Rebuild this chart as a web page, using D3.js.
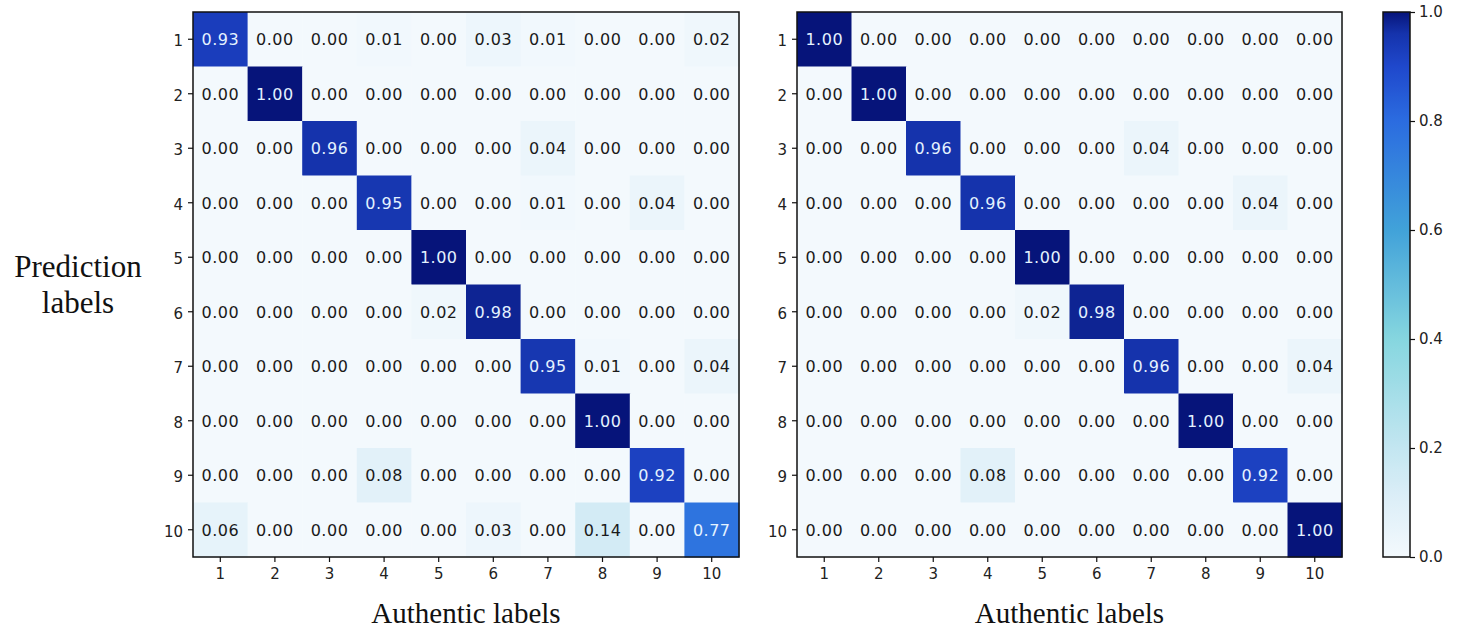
<!DOCTYPE html>
<html>
<head>
<meta charset="utf-8">
<script src="https://cdn.jsdelivr.net/npm/d3@7"></script>
<style>
  body { margin: 0; background: #fff; }
  .tick text { font-family: "DejaVu Sans", sans-serif; font-size: 15px; fill: #222; }
  .cell-text { font-family: "DejaVu Sans", sans-serif; font-size: 16px; letter-spacing: 0.5px; }
  .axis-title { font-family: "Liberation Serif", "Times New Roman", serif; font-size: 29px; fill: #111; }
  .y-title { font-size: 31px; }
</style>
</head>
<body>
<div id="chart"></div>
<script>
// class labels
var labels = ["1", "2", "3", "4", "5", "6", "7", "8", "9", "10"];

// left confusion matrix (rows = prediction, cols = authentic)
var matrixLeft = [
  [0.93, 0.00, 0.00, 0.01, 0.00, 0.03, 0.01, 0.00, 0.00, 0.02],
  [0.00, 1.00, 0.00, 0.00, 0.00, 0.00, 0.00, 0.00, 0.00, 0.00],
  [0.00, 0.00, 0.96, 0.00, 0.00, 0.00, 0.04, 0.00, 0.00, 0.00],
  [0.00, 0.00, 0.00, 0.95, 0.00, 0.00, 0.01, 0.00, 0.04, 0.00],
  [0.00, 0.00, 0.00, 0.00, 1.00, 0.00, 0.00, 0.00, 0.00, 0.00],
  [0.00, 0.00, 0.00, 0.00, 0.02, 0.98, 0.00, 0.00, 0.00, 0.00],
  [0.00, 0.00, 0.00, 0.00, 0.00, 0.00, 0.95, 0.01, 0.00, 0.04],
  [0.00, 0.00, 0.00, 0.00, 0.00, 0.00, 0.00, 1.00, 0.00, 0.00],
  [0.00, 0.00, 0.00, 0.08, 0.00, 0.00, 0.00, 0.00, 0.92, 0.00],
  [0.06, 0.00, 0.00, 0.00, 0.00, 0.03, 0.00, 0.14, 0.00, 0.77]
];

// right confusion matrix
var matrixRight = [
  [1.00, 0.00, 0.00, 0.00, 0.00, 0.00, 0.00, 0.00, 0.00, 0.00],
  [0.00, 1.00, 0.00, 0.00, 0.00, 0.00, 0.00, 0.00, 0.00, 0.00],
  [0.00, 0.00, 0.96, 0.00, 0.00, 0.00, 0.04, 0.00, 0.00, 0.00],
  [0.00, 0.00, 0.00, 0.96, 0.00, 0.00, 0.00, 0.00, 0.04, 0.00],
  [0.00, 0.00, 0.00, 0.00, 1.00, 0.00, 0.00, 0.00, 0.00, 0.00],
  [0.00, 0.00, 0.00, 0.00, 0.02, 0.98, 0.00, 0.00, 0.00, 0.00],
  [0.00, 0.00, 0.00, 0.00, 0.00, 0.00, 0.96, 0.00, 0.00, 0.04],
  [0.00, 0.00, 0.00, 0.00, 0.00, 0.00, 0.00, 1.00, 0.00, 0.00],
  [0.00, 0.00, 0.00, 0.08, 0.00, 0.00, 0.00, 0.00, 0.92, 0.00],
  [0.00, 0.00, 0.00, 0.00, 0.00, 0.00, 0.00, 0.00, 0.00, 1.00]
];

var colorbarTicks = [0.0, 0.2, 0.4, 0.6, 0.8, 1.0];

var svgWidth = 1463;
var svgHeight = 630;

var svg = d3.select("#chart").append("svg")
  .attr("width", svgWidth)
  .attr("height", svgHeight);

// colour ramp
var color = d3.scaleLinear()
  .domain([0, 0.1, 0.2, 0.4, 0.6, 0.8, 0.9, 0.96, 1.0])
  .range(["#f3f9fd", "#deeff8", "#c3e6f1", "#86d6df", "#41a2d9", "#2b6ce0", "#1f48cc", "#1533ac", "#06147a"])
  .interpolate(d3.interpolateRgb);

var plotTop = 12, plotH = 545;

function drawMatrix(data, left, width) {
  var g = svg.append("g").attr("transform", "translate(" + left + "," + plotTop + ")");

  var x = d3.scaleBand().domain(labels).range([0, width]);
  var y = d3.scaleBand().domain(labels).range([0, plotH]);

  var cells = [];
  data.forEach(function(row, i) {
    row.forEach(function(v, j) {
      cells.push({row: labels[i], col: labels[j], value: v});
    });
  });

  g.selectAll("rect.cell")
    .data(cells)
    .enter().append("rect")
    .attr("class", "cell")
    .attr("x", d => x(d.col))
    .attr("y", d => y(d.row))
    .attr("width", x.bandwidth() + 0.5)
    .attr("height", y.bandwidth() + 0.5)
    .attr("fill", d => color(d.value));

  g.selectAll("text.cell-text")
    .data(cells)
    .enter().append("text")
    .attr("class", "cell-text")
    .attr("x", d => x(d.col) + x.bandwidth() / 2)
    .attr("y", d => y(d.row) + y.bandwidth() / 2)
    .attr("dy", "0.36em")
    .attr("text-anchor", "middle")
    .attr("fill", d => d.value > 0.5 ? "#e4f2ff" : "#1a1a1a")
    .text(d => d3.format(".2f")(d.value));

  // frame
  g.append("rect")
    .attr("width", width)
    .attr("height", plotH)
    .attr("fill", "none")
    .attr("stroke", "#111")
    .attr("stroke-width", 1.5);

  var bottomAxis = d3.axisBottom(x).tickSize(5).tickPadding(6);
  var leftAxis = d3.axisLeft(y).tickSize(5).tickPadding(5);

  var xa = g.append("g").attr("transform", "translate(0," + plotH + ")").call(bottomAxis);
  var ya = g.append("g").call(leftAxis);
  [xa, ya].forEach(function(a) {
    a.select(".domain").remove();
    a.attr("font-family", null).attr("font-size", null);
    a.selectAll(".tick line").attr("stroke", "#111").attr("stroke-width", 1.2);
  });
  ya.selectAll(".tick text").attr("dy", "0.45em");

  g.append("text")
    .attr("class", "axis-title")
    .attr("x", width / 2)
    .attr("y", plotH + 66)
    .attr("text-anchor", "middle")
    .text("Authentic labels");
}

drawMatrix(matrixLeft, 193, 546);
drawMatrix(matrixRight, 797, 545);

// y axis title
var yTitle = svg.append("text")
  .attr("class", "axis-title y-title")
  .attr("text-anchor", "middle");
yTitle.append("tspan").attr("x", 78).attr("y", 277).text("Prediction");
yTitle.append("tspan").attr("x", 78).attr("y", 313).text("labels");

// colour bar
var cbLeft = 1383, cbWidth = 27;
var defs = svg.append("defs");
var grad = defs.append("linearGradient")
  .attr("id", "cbGrad")
  .attr("x1", 0).attr("y1", 1).attr("x2", 0).attr("y2", 0);
d3.range(0, 1.001, 0.02).forEach(function(t) {
  grad.append("stop").attr("offset", t).attr("stop-color", color(t));
});

var cb = svg.append("g").attr("transform", "translate(" + cbLeft + "," + plotTop + ")");
cb.append("rect")
  .attr("width", cbWidth)
  .attr("height", plotH)
  .attr("fill", "url(#cbGrad)")
  .attr("stroke", "#111")
  .attr("stroke-width", 1.5);

var cbScale = d3.scaleLinear().domain([0, 1]).range([plotH, 0]);
var cbAxis = cb.append("g")
  .attr("transform", "translate(" + cbWidth + ",0)")
  .call(d3.axisRight(cbScale).tickValues(colorbarTicks).tickFormat(d3.format(".1f")).tickSize(5).tickPadding(4));
cbAxis.select(".domain").remove();
cbAxis.attr("font-family", null).attr("font-size", null);
cbAxis.selectAll(".tick line").attr("stroke", "#111").attr("stroke-width", 1.2);
</script>
</body>
</html>
